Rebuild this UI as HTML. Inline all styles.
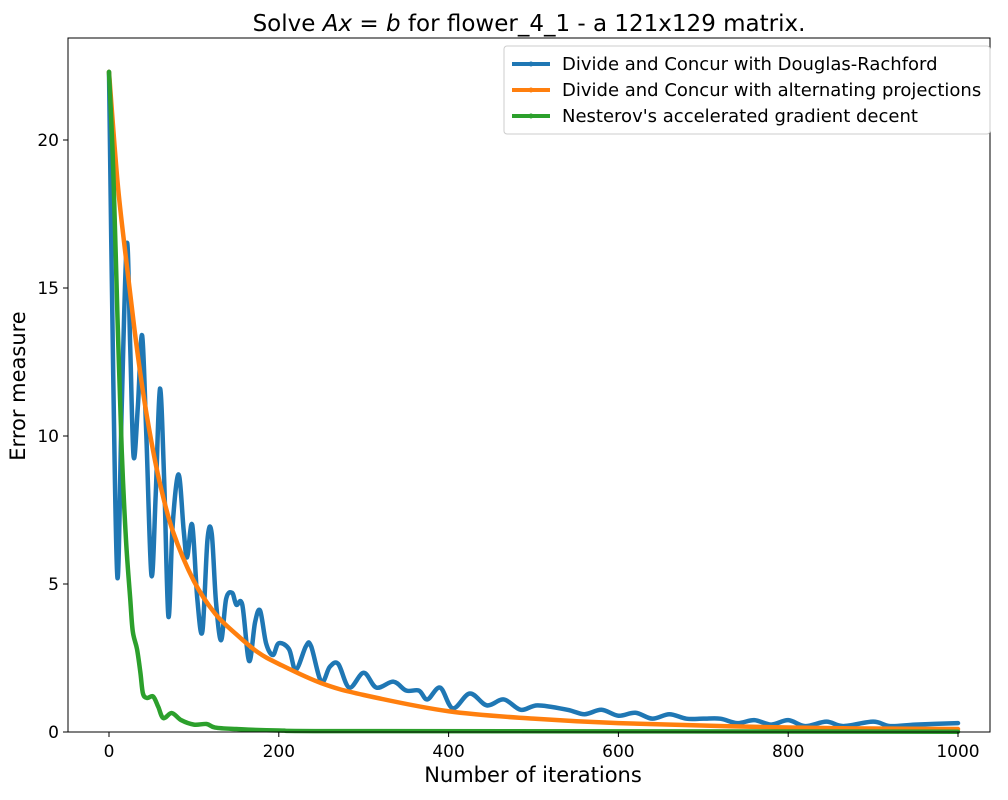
<!DOCTYPE html>
<html><head><meta charset="utf-8"><style>
body{margin:0;background:#fff;font-family:"Liberation Sans","DejaVu Sans",sans-serif;}
svg text{font-family:"DejaVu Sans","Liberation Sans",sans-serif;}
</style></head><body>
<svg id="chart" width="1008" height="795" xmlns="http://www.w3.org/2000/svg"></svg>
<script>
const xTicks=[0,200,400,600,800,1000];
const yTicks=[0,5,10,15,20];
const seriesNames=["Divide and Concur with Douglas-Rachford","Divide and Concur with alternating projections","Nesterov's accelerated gradient decent"];
const blueX=[0,5,10,15,21,25,29,34,39,44,50,55,60,65,70,75,82,88,92,98,104,110,116,121,126,132,138,145,150,157,165,172,178,185,193,200,212,220,232,238,250,260,270,283,300,315,335,350,365,375,390,405,425,445,465,485,505,540,560,580,600,620,640,660,680,700,720,740,760,780,800,820,845,865,900,920,950,1000];
const blueY=[22.3,12,5.2,11,16.5,13,9.3,11,13.4,10,5.3,8,11.6,8.5,3.9,7,8.7,6.8,5.9,7.0,4.5,3.4,6.5,6.7,4.4,3.1,4.5,4.7,4.3,4.3,2.4,3.7,4.1,3.0,2.6,3.0,2.8,2.1,2.9,2.9,1.7,2.2,2.3,1.5,2.0,1.5,1.7,1.4,1.4,1.1,1.5,0.8,1.3,0.9,1.1,0.75,0.9,0.75,0.6,0.75,0.55,0.65,0.45,0.6,0.45,0.45,0.45,0.3,0.4,0.25,0.4,0.2,0.35,0.2,0.35,0.2,0.25,0.3];
const orangeX=[0,10,20,30,40,50,60,75,100,125,150,175,200,250,300,400,500,600,800,1000];
const orangeY=[22.3,18.6,16,13.6,11.5,9.8,8.4,6.8,5.1,4.0,3.3,2.7,2.3,1.65,1.25,0.7,0.45,0.3,0.15,0.1];
const greenX=[0,5,10,15,20,25,28,33,37,40,45,52,58,64,74,85,100,115,125,150,200,300,1000];
const greenY=[22.3,19,14,9.5,6.5,4.5,3.4,2.8,2.0,1.3,1.15,1.2,0.85,0.47,0.64,0.4,0.25,0.27,0.15,0.1,0.05,0.03,0.01];

const NS="http://www.w3.org/2000/svg";
const svg=document.getElementById('chart');
const L=68,R=990,T=38,B=732;
const sx=v=>109+v*0.849;
const sy=v=>732-v*29.6;
function mk(tag,attrs,parent){const e=document.createElementNS(NS,tag);for(const k in attrs)e.setAttribute(k,attrs[k]);(parent||svg).appendChild(e);return e;}
function smoothPath(xs,ys){
  const p=xs.map((x,i)=>[sx(x),sy(ys[i])]);
  let d=`M${p[0][0]},${p[0][1]}`;
  for(let i=0;i<p.length-1;i++){
    const p0=p[i-1]||p[i],p1=p[i],p2=p[i+1],p3=p[i+2]||p2;
    const c1=[p1[0]+(p2[0]-p0[0])/6,p1[1]+(p2[1]-p0[1])/6];
    const c2=[p2[0]-(p3[0]-p1[0])/6,p2[1]-(p3[1]-p1[1])/6];
    d+=`C${c1[0]},${c1[1]} ${c2[0]},${c2[1]} ${p2[0]},${p2[1]}`;
  }
  return d;
}
const title=mk('text',{x:529,y:31,'text-anchor':'middle','font-size':23,fill:'#000'});


title.innerHTML='Solve <tspan font-style="italic">Ax</tspan> = <tspan font-style="italic">b</tspan> for flower_4_1 - a 121x129 matrix.';
[[blueX,blueY,'#1f77b4','dr-series'],[orangeX,orangeY,'#ff7f0e','ap-series'],[greenX,greenY,'#2ca02c','nesterov-series']].forEach(s=>{
  const p=mk('path',{d:smoothPath(s[0],s[1]),fill:'none',stroke:s[2],'stroke-width':4.5,'stroke-linejoin':'round','stroke-linecap':'round'});
  
  
});
const frame=mk('rect',{x:L,y:T,width:R-L,height:B-T,fill:'none',stroke:'#000','stroke-width':1});


xTicks.forEach(t=>{
  mk('line',{x1:sx(t),x2:sx(t),y1:B,y2:B+5,stroke:'#000'});
  const tx=mk('text',{x:sx(t),y:B+25,'text-anchor':'middle','font-size':17});
  
  
  tx.textContent=t;
});
yTicks.forEach(t=>{
  mk('line',{x1:L-5,x2:L,y1:sy(t),y2:sy(t),stroke:'#000'});
  const tx=mk('text',{x:L-9,y:sy(t)+6,'text-anchor':'end','font-size':17});
  
  
  tx.textContent=t;
});
const xl=mk('text',{x:533,y:782,'text-anchor':'middle','font-size':21});


xl.textContent='Number of iterations';
const yl=mk('text',{x:25,y:386,'text-anchor':'middle','font-size':21,transform:'rotate(-90 25 386)'});


yl.textContent='Error measure';
const lg=mk('rect',{x:504,y:46,width:486,height:88,rx:3,fill:'#fff','fill-opacity':0.8,stroke:'#ccc'});


const cols=['#1f77b4','#ff7f0e','#2ca02c'];
seriesNames.forEach((n,i)=>{
  const y=64+i*26;
  mk('line',{x1:512,x2:550,y1:y,y2:y,stroke:cols[i],'stroke-width':4});
  mk('circle',{cx:531,cy:y,r:2.5,fill:cols[i]});
  const t=mk('text',{x:562,y:y+6,'font-size':18});
  
  
  t.textContent=n;
});
</script>
</body></html>
